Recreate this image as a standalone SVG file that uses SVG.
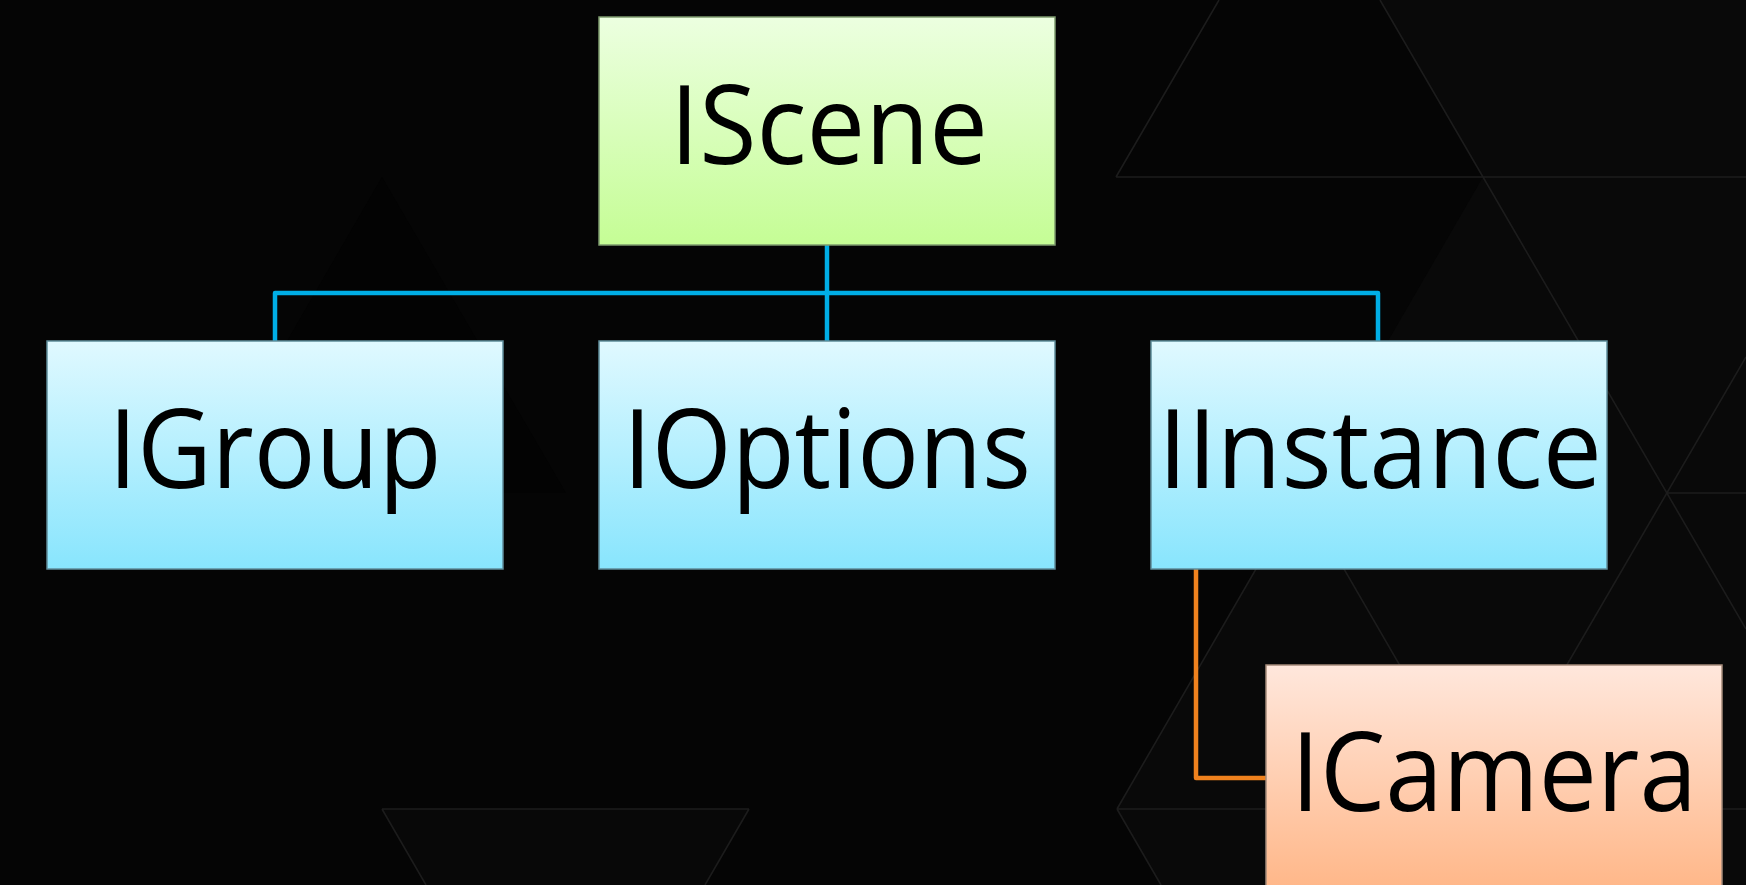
<svg xmlns="http://www.w3.org/2000/svg" width="1746" height="885" viewBox="0 0 1746 885">
  <defs>
    <linearGradient id="gGreen" x1="0" y1="0" x2="0" y2="1">
      <stop offset="0" stop-color="#ecffe0"/>
      <stop offset="1" stop-color="#c5fd95"/>
    </linearGradient>
    <linearGradient id="gBlue" x1="0" y1="0" x2="0" y2="1">
      <stop offset="0" stop-color="#e0f9ff"/>
      <stop offset="1" stop-color="#88e5fd"/>
    </linearGradient>
    <linearGradient id="gOrange" x1="0" y1="0" x2="0" y2="1">
      <stop offset="0" stop-color="#ffe7dc"/>
      <stop offset="1" stop-color="#ffb687"/>
    </linearGradient>
    <style>
      .lattice { fill: none; stroke: #1c1c1c; stroke-width: 1.6; }
      .box { stroke-width: 1.5; }
      .green { fill: url(#gGreen); stroke: #7d9b6d; }
      .blue { fill: url(#gBlue); stroke: #5f8d9b; }
      .orange { fill: url(#gOrange); stroke: #a58a7a; }
      .label { font-family: "Open Sans", "Noto Sans", sans-serif; font-size: 110px; fill: #000; text-anchor: middle; }
      .link-blue { fill: none; stroke: #00aee6; stroke-width: 4.5; stroke-linejoin: round; }
      .link-orange { fill: none; stroke: #f0821e; stroke-width: 4.5; stroke-linejoin: round; }
    </style>
  </defs>

  <!-- backdrop: dark field with a faint triangular lattice -->
  <g id="background">
    <rect x="0" y="0" width="1746" height="885" fill="#050505"/>
    <polygon points="1380,0 1746,0 1746,885 1161,885 1117,809 1300,493 1483,177" fill="#090909"/>
    <polygon points="382,177 199,493 566,493" fill="#030303"/>
    <polygon points="382,809 749,809 705,885 426,885" fill="#080808"/>
    <path class="lattice" d="M1219,0 L1116,177 M1380,0 L1746,629 M1116,177 H1746 M1746,357 L1483,809 M1667,493 H1746 M1300,493 L1117,809 M1300,493 L1483,809 M1117,809 H1746 M1117,809 L1161,885 M382,809 H749 M382,809 L426,885 M749,809 L705,885"/>
  </g>

  <!-- tree connectors -->
  <g id="connectors">
    <path class="link-blue" d="M827,245 V341"/>
    <path class="link-blue" d="M275,341 V293 H1378 V341"/>
    <path class="link-orange" d="M1196,569 V778 H1266"/>
  </g>

  <g id="node-IScene">
    <rect class="box green" x="599" y="17" width="456" height="228"/>
    <text class="label" x="829" y="164" textLength="318" lengthAdjust="spacingAndGlyphs">IScene</text>
  </g>
  <g id="node-IGroup">
    <rect class="box blue" x="47" y="341" width="456" height="228"/>
    <text class="label" x="275" y="488" textLength="333" lengthAdjust="spacingAndGlyphs">IGroup</text>
  </g>
  <g id="node-IOptions">
    <rect class="box blue" x="599" y="341" width="456" height="228"/>
    <text class="label" x="827" y="488" textLength="408" lengthAdjust="spacingAndGlyphs">IOptions</text>
  </g>
  <g id="node-IInstance">
    <rect class="box blue" x="1151" y="341" width="456" height="228"/>
    <text class="label" x="1380" y="488" textLength="444" lengthAdjust="spacingAndGlyphs">IInstance</text>
  </g>
  <g id="node-ICamera">
    <rect class="box orange" x="1266" y="665" width="456" height="228"/>
    <text class="label" x="1494" y="811" textLength="406" lengthAdjust="spacingAndGlyphs">ICamera</text>
  </g>
</svg>
